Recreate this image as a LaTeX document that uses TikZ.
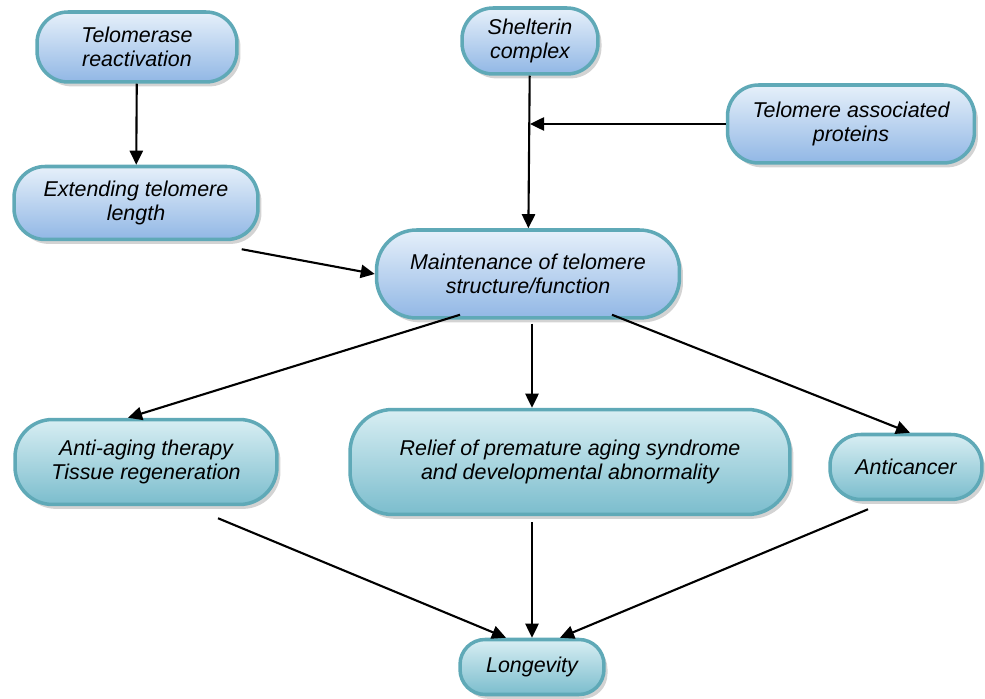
\documentclass[tikz,border=0pt]{standalone}
\usepackage{fontspec}
\setmainfont{Liberation Sans}
\usetikzlibrary{arrows.meta,shadows,calc}

\definecolor{rimteal}{HTML}{5FA9B7}
\definecolor{bluetop}{HTML}{E6F0FA}
\definecolor{bluebot}{HTML}{91B7E5}
\definecolor{tealtop}{HTML}{D8EEF3}
\definecolor{tealbot}{HTML}{7BBDCD}

\begin{document}
\begin{tikzpicture}[x=0.02cm,y=-0.02cm,>={Triangle[length=8pt,width=7.5pt]},line width=1.2pt]
        \tikzstyle{pill}=[draw=rimteal,line width=2pt,rounded corners=0.62cm,
          align=center,font=\fontsize{12.2}{13.8}\selectfont\itshape,inner sep=0pt,
          drop shadow={opacity=0.35,shadow xshift=2pt,shadow yshift=-2.5pt}]
        \tikzstyle{upper}=[pill,top color=bluetop,bottom color=bluebot]
        \tikzstyle{lower}=[pill,top color=tealtop,bottom color=tealbot]
        \useasboundingbox (0,0) rectangle (985,699);

        \node[upper,minimum width=4cm,minimum height=1.4cm](tr) at (137,47){Telomerase\\reactivation};
        \node[upper,minimum width=2.72cm,minimum height=1.32cm](sc) at (530,41){Shelterin\\complex};
        \node[upper,minimum width=4.94cm,minimum height=1.56cm](tap) at (851,124){Telomere associated\\proteins};
        \node[upper,minimum width=4.88cm,minimum height=1.46cm](etl) at (136,203){Extending telomere\\length};
        \node[upper,minimum width=6.06cm,minimum height=1.76cm,rounded corners=0.8cm](mt) at (528,274){Maintenance of telomere\\structure/function};

        \node[lower,minimum width=5.24cm,minimum height=1.7cm,rounded corners=0.75cm](aa) at (146,462){Anti-aging therapy\\Tissue regeneration};
        \node[lower,minimum width=8.8cm,minimum height=2.1cm,rounded corners=0.85cm](rp) at (570,462){Relief of premature aging syndrome\\and developmental abnormality};
        \node[lower,minimum width=3.04cm,minimum height=1.3cm](ac) at (906,467){Anticancer};
        \node[lower,minimum width=2.88cm,minimum height=1.1cm,rounded corners=0.5cm](lg) at (532,667){Longevity};

        \coordinate (join) at (sc.south |- tap.west);

        \draw[->] (tr) -- (etl);
        \draw[->] (sc) -- (mt);
        \draw[->] (tap) -- (join);
        \draw[->] ($(etl.south east)+(-18,8)$) -- (mt.west);

        \draw[->] ($(mt.south)+(-68,-5)$) -- ($(aa.north)+(-18,0)$);
        \draw[->] ($(mt.south)+(4,4)$) -- (rp.north -| lg);
        \draw[->] ($(mt.south)+(84,-5)$) -- ($(ac.north)+(4,0)$);

        \draw[->] ($(aa.south)+(72,12)$) -- ($(lg.north)+(-26,0)$);
        \draw[->] ($(rp.south -| lg)+(0,6)$) -- (lg.north);
        \draw[->] ($(ac.south)+(-38,8)$) -- ($(lg.north)+(28,0)$);

    \end{tikzpicture}
\end{document}
